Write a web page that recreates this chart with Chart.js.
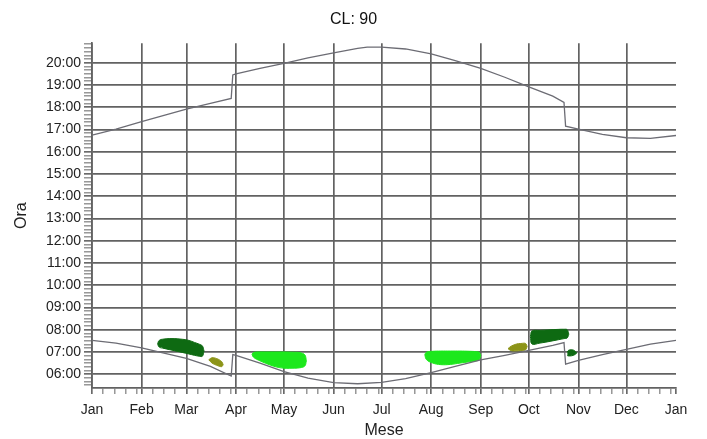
<!DOCTYPE html>
<html>
<head>
<meta charset="utf-8">
<script src="https://cdn.jsdelivr.net/npm/chart.js@4"></script>
<style>
  body { margin: 0; background: #fff; }
  .chart-box { width: 707px; height: 439px; }
</style>
</head>
<body>
<div class="chart-box"><canvas id="shadowChart"></canvas></div>
<script>
const months = ['Jan', 'Feb', 'Mar', 'Apr', 'May', 'Jun', 'Jul', 'Aug', 'Sep', 'Oct', 'Nov', 'Dec', 'Jan'];
const monthStarts = [0, 31, 59, 90, 120, 151, 181, 212, 243, 273, 304, 334, 365];
const hourLabels = ['06:00', '07:00', '08:00', '09:00', '10:00', '11:00', '12:00', '13:00',
                    '14:00', '15:00', '16:00', '17:00', '18:00', '19:00', '20:00'];

// sunset (hours), day of year
const sunsetDays  = [0, 15, 31, 45, 59, 74, 87, 88, 90, 105, 120, 135, 151, 166, 172, 181, 196, 212, 227, 243, 258, 273, 288, 295, 296, 304, 319, 334, 349, 365];
const sunsetHours = [16.75, 17.02, 17.35, 17.63, 17.92, 18.18, 18.40, 19.45, 19.50, 19.75, 19.97, 20.22, 20.45, 20.65, 20.70, 20.70, 20.62, 20.40, 20.10, 19.75, 19.35, 18.92, 18.50, 18.22, 17.15, 17.02, 16.78, 16.63, 16.60, 16.73];

// sunrise (hours)
const sunriseDays  = [0, 15, 31, 45, 59, 74, 87, 88, 90, 105, 120, 135, 151, 166, 181, 196, 212, 227, 243, 258, 273, 288, 295, 296, 304, 319, 334, 349, 365];
const sunriseHours = [7.52, 7.40, 7.18, 6.95, 6.71, 6.35, 5.92, 6.88, 6.85, 6.50, 6.12, 5.82, 5.62, 5.57, 5.63, 5.80, 6.07, 6.35, 6.64, 6.85, 7.07, 7.30, 7.42, 6.45, 6.62, 6.88, 7.12, 7.35, 7.52];

// shadow periods: days, upper and lower time
const febDays   = [41, 42, 45, 50, 55, 60, 64, 67, 69, 70];
const febTop    = [7.36, 7.52, 7.58, 7.60, 7.58, 7.53, 7.43, 7.35, 7.27, 7.05];
const febBottom = [7.36, 7.22, 7.16, 7.08, 7.00, 6.92, 6.85, 6.81, 6.81, 7.05];

const marDays   = [73, 75, 78, 81, 82];
const marTop    = [6.65, 6.74, 6.70, 6.57, 6.42];
const marBottom = [6.65, 6.50, 6.40, 6.34, 6.42];

const aprDays   = [100, 101, 105, 110, 115, 120, 125, 130, 133, 134];
const aprTop    = [6.90, 6.98, 7.00, 7.00, 7.00, 7.00, 6.99, 6.97, 6.87, 6.60];
const aprBottom = [6.90, 6.76, 6.60, 6.45, 6.33, 6.27, 6.27, 6.29, 6.37, 6.60];

const augDays   = [208, 209, 213, 218, 224, 230, 236, 241, 242, 243];
const augTop    = [6.88, 6.99, 7.03, 7.04, 7.04, 7.04, 7.03, 7.01, 6.99, 6.85];
const augBottom = [6.88, 6.66, 6.50, 6.43, 6.44, 6.50, 6.56, 6.61, 6.64, 6.85];

const sepDays   = [260, 262, 265, 268, 271, 272];
const sepTop    = [7.15, 7.26, 7.35, 7.38, 7.38, 7.25];
const sepBottom = [7.15, 7.06, 7.05, 7.06, 7.10, 7.25];

const octDays   = [274, 275, 280, 285, 290, 295, 297, 298];
const octTop    = [7.70, 7.94, 7.97, 7.99, 8.01, 8.02, 8.00, 7.80];
const octBottom = [7.70, 7.36, 7.40, 7.46, 7.53, 7.60, 7.63, 7.80];

const novDays   = [297, 298, 301, 303];
const novTop    = [7.00, 7.08, 7.08, 6.95];
const novBottom = [6.84, 6.82, 6.85, 6.95];

const darkGreen = '#0e6a12';
const brightGreen = '#1ce81c';
const olive = '#8c9418';
const gridColor = '#626262';
const curveColor = '#6c6c74';

function toPoints(days, values) {
    return days.map((d, i) => ({ x: d, y: values[i] }));
}

function curve(days, values) {
    return {
        data: toPoints(days, values),
        borderColor: curveColor,
        borderWidth: 1.3,
        pointRadius: 0,
        fill: false
    };
}

function shadow(days, top, bottom, color) {
    return [{
        data: toPoints(days, top),
        borderColor: color,
        backgroundColor: color,
        borderWidth: 1,
        pointRadius: 0,
        tension: 0.4,
        fill: '+1'
    }, {
        data: toPoints(days, bottom),
        borderColor: color,
        borderWidth: 1,
        pointRadius: 0,
        tension: 0.4,
        fill: false
    }];
}

// weekly minor ticks inside each month
const minorDays = [];
monthStarts.slice(0, 12).forEach((start, i) => {
    [7, 14, 21, 28].forEach(o => {
        if (start + o < monthStarts[i + 1]) minorDays.push(start + o);
    });
});

const shadowChart = document.getElementById('shadowChart');

new Chart(shadowChart, {
    type: 'line',
    data: {
        datasets: [
            curve(sunsetDays, sunsetHours),
            curve(sunriseDays, sunriseHours),
            ...shadow(febDays, febTop, febBottom, darkGreen),
            ...shadow(marDays, marTop, marBottom, olive),
            ...shadow(aprDays, aprTop, aprBottom, brightGreen),
            ...shadow(augDays, augTop, augBottom, brightGreen),
            ...shadow(sepDays, sepTop, sepBottom, olive),
            ...shadow(octDays, octTop, octBottom, darkGreen),
            ...shadow(novDays, novTop, novBottom, darkGreen)
        ]
    },
    options: {
        responsive: true,
        maintainAspectRatio: false,
        animation: false,
        layout: { padding: { left: 31, right: 31, top: 0, bottom: 0 } },
        plugins: {
            legend: { display: false },
            tooltip: { enabled: false },
            title: {
                display: true,
                text: 'CL: 90',
                color: '#111',
                font: { family: 'Liberation Sans, Arial, sans-serif', size: 16, weight: 'normal' },
                padding: { top: 10, bottom: 14 }
            }
        },
        scales: {
            x: {
                type: 'linear',
                min: 0,
                max: 365,
                afterBuildTicks: scale => {
                    scale.ticks = monthStarts.concat(minorDays).sort((a, b) => a - b).map(v => ({ value: v }));
                },
                afterFit: scale => { scale.height = 51; },
                ticks: {
                    autoSkip: false,
                    maxRotation: 0,
                    padding: 8,
                    color: '#222',
                    font: { family: 'Liberation Sans, Arial, sans-serif', size: 14 },
                    callback: value => {
                        const i = monthStarts.indexOf(value);
                        return i >= 0 ? months[i] : '';
                    }
                },
                grid: {
                    color: ctx => {
                        const v = ctx.tick ? ctx.tick.value : -1;
                        return (monthStarts.includes(v) && v !== 365) ? gridColor : 'rgba(0,0,0,0)';
                    },
                    lineWidth: 1.7,
                    tickColor: gridColor,
                    tickWidth: ctx => (ctx.tick && monthStarts.includes(ctx.tick.value)) ? 1.6 : 1,
                    tickLength: 6
                },
                border: { color: gridColor, width: 1.7 },
                title: {
                    display: true,
                    text: 'Mese',
                    color: '#222',
                    font: { family: 'Liberation Sans, Arial, sans-serif', size: 16 },
                    padding: { top: 0, bottom: -1 }
                }
            },
            y: {
                type: 'linear',
                min: 5.38,
                max: 20.88,
                afterBuildTicks: scale => {
                    const list = [];
                    for (let m = 330; m <= 1250; m += 10) list.push({ value: m / 60 });
                    scale.ticks = list;
                },
                afterFit: scale => { scale.width = 61; },
                ticks: {
                    autoSkip: false,
                    padding: 3,
                    color: '#222',
                    font: { family: 'Liberation Sans, Arial, sans-serif', size: 14 },
                    callback: value => {
                        const m = Math.round(value * 60);
                        return m % 60 === 0 ? hourLabels[m / 60 - 6] : '';
                    }
                },
                grid: {
                    color: ctx => {
                        const m = ctx.tick ? Math.round(ctx.tick.value * 60) : 1;
                        return m % 60 === 0 ? gridColor : 'rgba(0,0,0,0)';
                    },
                    lineWidth: 1.7,
                    tickColor: gridColor,
                    tickWidth: ctx => (ctx.tick && Math.round(ctx.tick.value * 60) % 60 === 0) ? 1.6 : 1,
                    tickLength: 8
                },
                border: { color: gridColor, width: 1.7 },
                title: {
                    display: true,
                    text: 'Ora',
                    color: '#222',
                    font: { family: 'Liberation Sans, Arial, sans-serif', size: 16 },
                    padding: { top: -18.6, bottom: 0 }
                }
            }
        }
    }
});
</script>
</body>
</html>
